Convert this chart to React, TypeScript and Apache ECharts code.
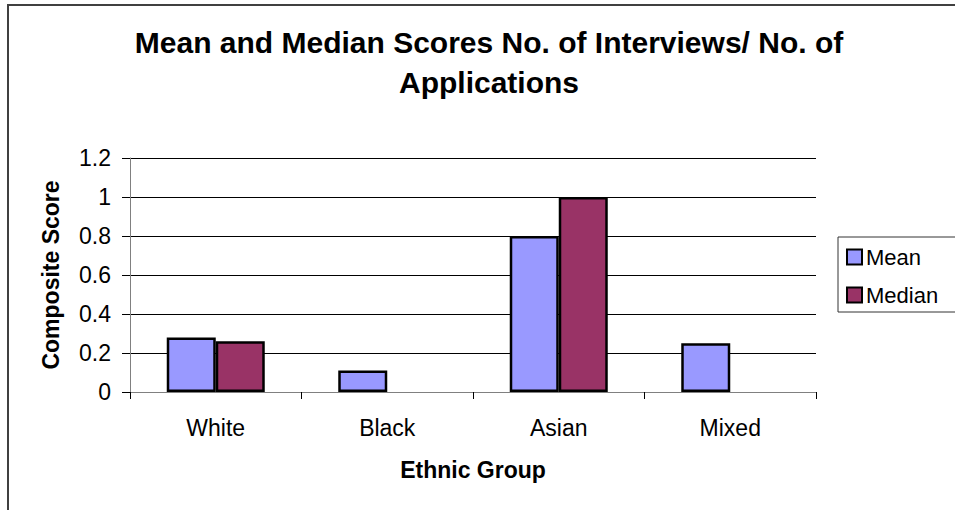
import React, { useEffect, useRef } from "react";
import * as echarts from "echarts";

const categories = ["White", "Black", "Asian", "Mixed"];
const meanValues = [0.28, 0.11, 0.8, 0.25];
const medianValues: (number | null)[] = [0.26, null, 1.0, null];
const yTicks = [0, 0.2, 0.4, 0.6, 0.8, 1, 1.2];
const titleText = "Mean and Median Scores No. of Interviews/ No. of\nApplications";

export default function App() {
  const ref = useRef<HTMLDivElement>(null);
  useEffect(() => {
    if (!ref.current) return;
    const chart = echarts.init(ref.current, null, { renderer: "svg" });
    const font = "Liberation Sans";
    chart.setOption({
      animation: false,
      backgroundColor: "#ffffff",
      textStyle: { fontFamily: font },
      title: {
        text: titleText,
        left: 484,
        top: 17,
        textAlign: "center",
        textStyle: {
          fontFamily: font,
          fontSize: 30,
          fontWeight: "bold",
          color: "#000",
          lineHeight: 40,
        },
      },
      graphic: [
        {
          type: "rect",
          shape: { x: 8, y: 5, width: 1000, height: 600 },
          style: { fill: "none", stroke: "#404040", lineWidth: 2 },
          silent: true,
          z: -1,
        },
      ],
      legend: {
        left: 838,
        top: 237,
        orient: "vertical",
        itemWidth: 15,
        itemHeight: 15,
        itemGap: 16,
        padding: [9, 40, 6, 8],
        borderColor: "#333",
        borderWidth: 1,
        icon: "rect",
        itemStyle: { borderColor: "#000", borderWidth: 2 },
        textStyle: { fontFamily: font, fontSize: 22, color: "#000", padding: [0, 0, 0, -1] },
        data: ["Mean", "Median"],
      },
      grid: { left: 130, right: 139, top: 158, bottom: 118 },
      xAxis: {
        type: "category",
        data: categories,
        name: "Ethnic Group",
        nameLocation: "middle",
        nameGap: 66,
        nameTextStyle: { fontFamily: font, fontSize: 23, fontWeight: "bold", color: "#000" },
        axisLine: { lineStyle: { color: "#808080", width: 1 } },
        axisTick: { show: true, length: 7, lineStyle: { color: "#000" } },
        axisLabel: { fontFamily: font, fontSize: 23, color: "#000", margin: 24 },
      },
      yAxis: {
        type: "value",
        min: 0,
        max: 1.2,
        interval: 0.2,
        name: "Composite Score",
        nameLocation: "middle",
        nameGap: 68,
        nameTextStyle: { fontFamily: font, fontSize: 23, fontWeight: "bold", color: "#000" },
        axisLine: { show: true, lineStyle: { color: "#808080", width: 1 } },
        axisTick: { show: true, length: 8, lineStyle: { color: "#000" } },
        axisLabel: {
          fontFamily: font,
          fontSize: 23,
          color: "#000",
          margin: 19,
          formatter: (v: number) => {
            const t = yTicks.find((x) => Math.abs(x - v) < 1e-9);
            return t === undefined ? "" : String(t);
          },
        },
        splitLine: { show: true, lineStyle: { color: "#000", width: 1 } },
      },
      series: [
        {
          name: "Mean",
          type: "bar",
          data: meanValues,
          barWidth: 49,
          barGap: "0%",
          itemStyle: { color: "#9999FF", borderColor: "#000", borderWidth: 2.5 },
        },
        {
          name: "Median",
          type: "bar",
          data: medianValues,
          barWidth: 49,
          barGap: "0%",
          itemStyle: { color: "#993366", borderColor: "#000", borderWidth: 2.5 },
        },
      ],
    });
    return () => chart.dispose();
  }, []);
  return <div ref={ref} style={{ width: 955, height: 510, position: "absolute", left: 0, top: 0 }} />;
}
